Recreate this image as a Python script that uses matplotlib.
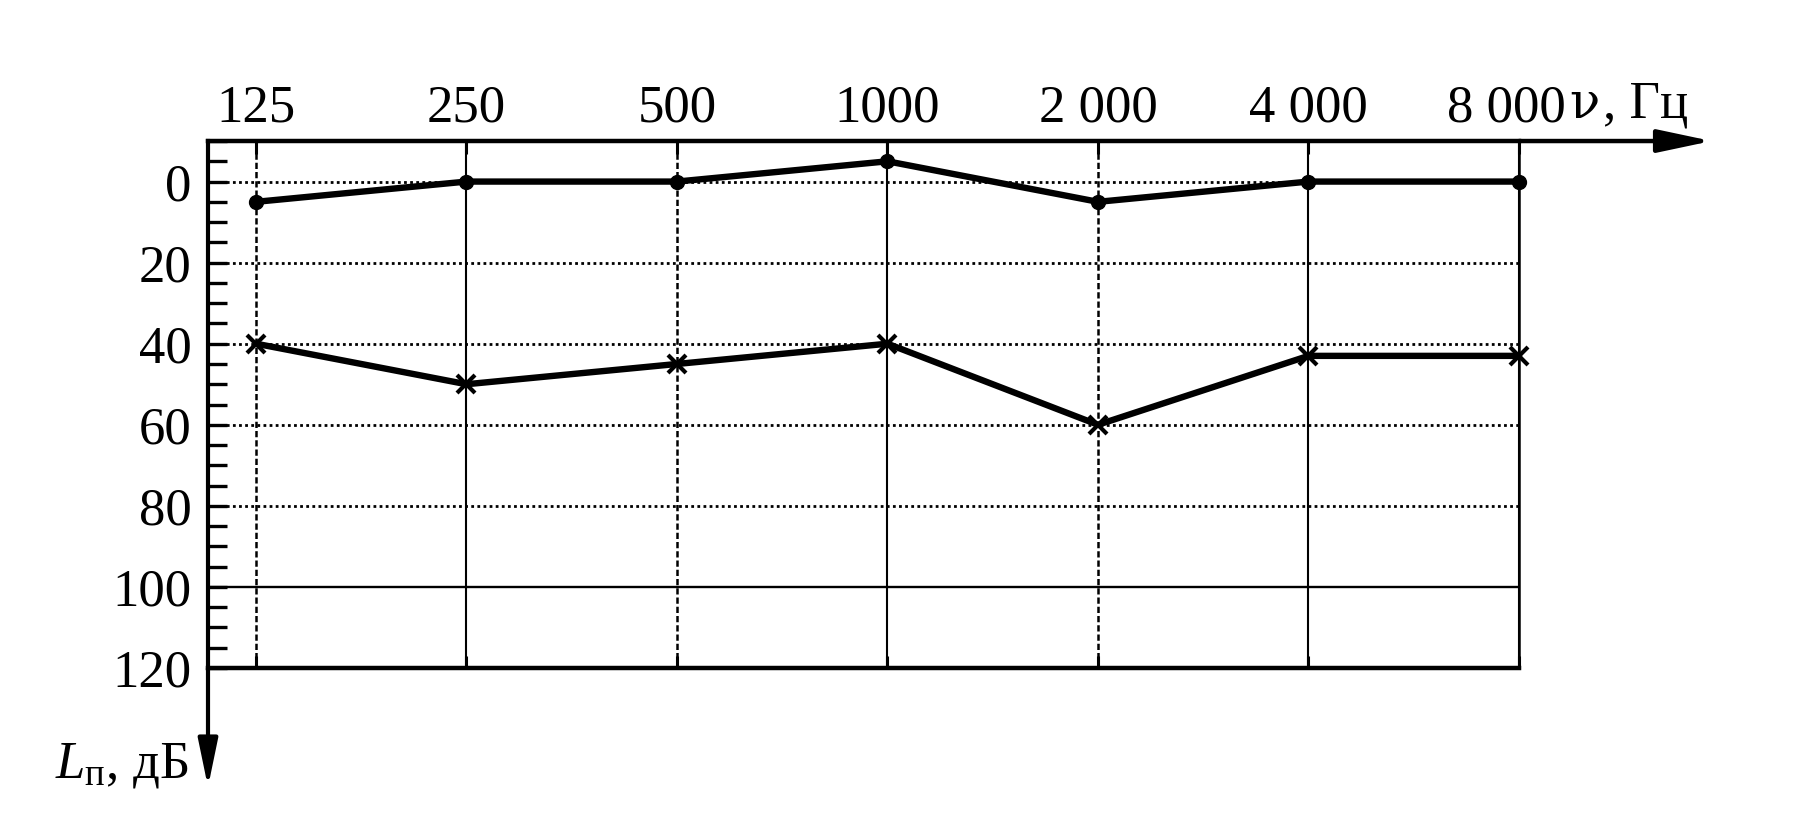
import matplotlib
matplotlib.use('Agg')
import matplotlib.pyplot as plt
import matplotlib.transforms as mtransforms
from matplotlib.ticker import MultipleLocator, FixedLocator

# ---- data ----
freq_labels = ['125', '250', '500', '1000', '2 000', '4 000', '8 000']
threshold_db = [5, 0, 0, -5, 5, 0, 0]          # filled dots
patient_db = [40, 50, 45, 40, 60, 43, 43]      # crosses
y_ticks = [0, 20, 40, 60, 80, 100, 120]

plt.rcParams['font.family'] = ['Liberation Serif', 'DejaVu Serif']
plt.rcParams['mathtext.fontset'] = 'custom'
plt.rcParams['mathtext.rm'] = 'Liberation Serif'
plt.rcParams['mathtext.it'] = 'Liberation Serif:italic'

fig = plt.figure(figsize=(18.15, 8.19), dpi=100)
ax = fig.add_axes([0.1146, 0.1844, 0.7223, 0.6434])

x = list(range(len(freq_labels)))
ax.set_xlim(-0.228, 6.0)
ax.set_ylim(120, -10)

# grid
for v in y_ticks[:-1]:
    if v == 100:
        ax.axhline(v, color='k', lw=1.7, zorder=1)
    else:
        ax.axhline(v, color='k', lw=2.0, ls=(0, (1, 1.2)), zorder=1)
for i in x:
    if i % 2 == 0 and i != x[-1]:
        ax.axvline(i, color='k', lw=1.8, ls=(0, (2.5, 1.2)), zorder=1)
    else:
        ax.axvline(i, color='k', lw=1.5, zorder=1)

# data
ax.plot(x, threshold_db, color='k', lw=4.6, marker='o', ms=10, zorder=3, clip_on=False)
ax.plot(x, patient_db, color='k', lw=4.6, marker='x', ms=13, mew=3.0, zorder=3, clip_on=False)

# spines
for s, w in [('top', 3.2), ('left', 3.0), ('bottom', 3.2), ('right', 1.8)]:
    ax.spines[s].set_linewidth(w)
    ax.spines[s].set_color('k')

# ticks
ax.xaxis.set_major_locator(FixedLocator(x))
ax.tick_params(axis='x', which='both', top=True, bottom=True, labeltop=False,
               labelbottom=False, direction='in', length=9, width=2.2)
ax.yaxis.set_major_locator(FixedLocator(y_ticks))
ax.yaxis.set_minor_locator(MultipleLocator(5))
ax.tick_params(axis='y', which='both', left=True, right=False, direction='in',
               length=14, width=2.4, labelsize=38, pad=12)

# top frequency labels
xtrans = ax.get_xaxis_transform()
for i, lab in zip(x, freq_labels):
    tr = xtrans
    if i == x[-1]:
        tr = xtrans + mtransforms.ScaledTranslation(-0.13, 0, fig.dpi_scale_trans)
    ax.text(i, 1.0, lab, transform=tr + mtransforms.ScaledTranslation(0, 0.2, fig.dpi_scale_trans),
            fontsize=38, ha='center', va='baseline')

# axis arrows
ax.annotate('', xy=(1.147, 1.0), xytext=(1.0, 1.0), xycoords='axes fraction',
            textcoords='axes fraction',
            arrowprops=dict(arrowstyle='-|>,head_length=33,head_width=7',
                            mutation_scale=1, lw=3.2, color='k',
                            shrinkA=0, shrinkB=0), annotation_clip=False)
ax.annotate('', xy=(0.0, -0.226), xytext=(0.0, 0.0), xycoords='axes fraction',
            textcoords='axes fraction',
            arrowprops=dict(arrowstyle='-|>,head_length=29,head_width=6',
                            mutation_scale=1, lw=3.0, color='k',
                            shrinkA=0, shrinkB=0), annotation_clip=False)

# axis labels
ax.text(1.038, 1.044, 'ν', transform=ax.transAxes, fontsize=36,
        ha='left', va='baseline', family=['DejaVu Serif'])
ax.text(1.064, 1.044, ', Гц', transform=ax.transAxes, fontsize=38,
        ha='left', va='baseline')
ax.text(-0.015, -0.207, r'$L_{\mathrm{п}}$, дБ', transform=ax.transAxes,
        fontsize=38, ha='right', va='baseline')

fig.savefig('out.png', dpi=100)
